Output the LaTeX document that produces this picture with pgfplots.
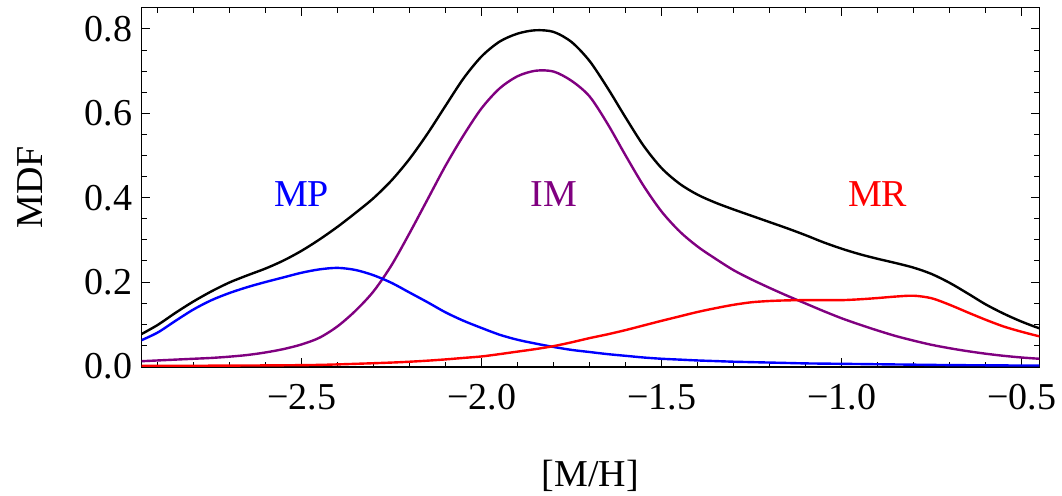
\documentclass[border=0pt]{standalone}
\usepackage{fontspec}
\setmainfont{Liberation Serif}
\usepackage{pgfplots}
\pgfplotsset{compat=1.18}
\definecolor{mpblue}{RGB}{0,0,255}
\definecolor{impurple}{RGB}{128,0,128}
\definecolor{mrred}{RGB}{255,0,0}
\begin{document}
\begin{tikzpicture}
\begin{axis}[name=ax, scale only axis, width=448.8pt, height=179.85pt,
  xmin=-2.944, xmax=-0.451, ymin=-0.0015, ymax=0.8514,
  xtick={-2.5,-2,-1.5,-1,-0.5}, xticklabels={−2.5,−2.0,−1.5,−1.0,−0.5},
  minor xtick={-2.9,-2.8,-2.7,-2.6,-2.4,-2.3,-2.2,-2.1,-1.9,-1.8,-1.7,-1.6,-1.4,-1.3,-1.2,-1.1,-0.9,-0.8,-0.7,-0.6},
  ytick={0,0.2,0.4,0.6,0.8}, yticklabels={0.0,0.2,0.4,0.6,0.8},
  minor ytick={0.05,0.1,0.15,0.25,0.3,0.35,0.45,0.5,0.55,0.65,0.7,0.75},
  tick align=inside, major tick length=4.4pt, minor tick length=2.7pt,
  tick style={black, line width=0.5pt},
  axis line style={line width=0.8pt},
  /pgf/number format/assume math mode=true,
  tick label style={font=\fontsize{19}{23}\selectfont},
  xticklabel style={yshift=-5.2pt},
  yticklabel style={xshift=-1.2pt},
  label style={font=\fontsize{19}{23}\selectfont},
  xlabel={[M/H]}, ylabel={MDF},
  xlabel style={at={(axis description cs:0.5,-0.3328)}, anchor=base},
  ylabel style={at={(axis description cs:-0.1100,0.5)}, anchor=base},
  every axis plot/.append style={line width=1.2pt, smooth},
  clip=true,
]
% IM
\addplot[impurple] coordinates {
(-2.95,0.012) (-2.90,0.014) (-2.85,0.016) (-2.80,0.018) (-2.75,0.020) (-2.70,0.023)
(-2.65,0.027) (-2.60,0.033) (-2.55,0.041) (-2.50,0.052) (-2.45,0.068) (-2.40,0.095)
(-2.35,0.132) (-2.30,0.178) (-2.25,0.240) (-2.20,0.316) (-2.15,0.396) (-2.10,0.476)
(-2.05,0.548) (-2.00,0.612) (-1.95,0.659) (-1.90,0.688) (-1.85,0.701) (-1.80,0.699)
(-1.75,0.677) (-1.70,0.640) (-1.65,0.575) (-1.60,0.500) (-1.55,0.428) (-1.50,0.367)
(-1.45,0.320) (-1.40,0.284) (-1.35,0.255) (-1.30,0.228) (-1.25,0.206) (-1.20,0.186)
(-1.15,0.167) (-1.10,0.149) (-1.05,0.131) (-1.00,0.114) (-0.95,0.099) (-0.90,0.085)
(-0.85,0.072) (-0.80,0.061) (-0.75,0.051) (-0.70,0.043) (-0.65,0.036) (-0.60,0.030)
(-0.55,0.025) (-0.50,0.021) (-0.45,0.018) (-0.40,0.016)
};
% MP
\addplot[mpblue] coordinates {
(-2.95,0.060) (-2.90,0.080) (-2.85,0.108) (-2.80,0.135) (-2.75,0.157) (-2.70,0.174)
(-2.65,0.188) (-2.60,0.200) (-2.55,0.211) (-2.50,0.222) (-2.45,0.230) (-2.40,0.2335)
(-2.35,0.2285) (-2.30,0.216) (-2.25,0.198) (-2.20,0.175) (-2.15,0.152) (-2.10,0.128)
(-2.05,0.108) (-2.00,0.091) (-1.95,0.075) (-1.90,0.063) (-1.85,0.054) (-1.80,0.046)
(-1.75,0.039) (-1.70,0.034) (-1.65,0.029) (-1.60,0.025) (-1.55,0.021) (-1.50,0.018)
(-1.45,0.016) (-1.40,0.014) (-1.35,0.0125) (-1.30,0.011) (-1.25,0.010) (-1.20,0.009)
(-1.15,0.008) (-1.10,0.007) (-1.05,0.0065) (-1.00,0.006) (-0.90,0.005) (-0.80,0.004)
(-0.70,0.003) (-0.60,0.0025) (-0.50,0.002) (-0.40,0.002)
};
% MR
\addplot[mrred] coordinates {
(-2.95,0.001) (-2.85,0.0012) (-2.75,0.0016) (-2.65,0.002) (-2.55,0.0025) (-2.45,0.0035)
(-2.35,0.006) (-2.25,0.009) (-2.20,0.011) (-2.15,0.0135) (-2.10,0.0165) (-2.05,0.020)
(-2.00,0.0235) (-1.95,0.029) (-1.90,0.035) (-1.85,0.041) (-1.80,0.048) (-1.75,0.057)
(-1.70,0.067) (-1.65,0.076) (-1.60,0.086) (-1.55,0.097) (-1.50,0.108) (-1.45,0.1185)
(-1.40,0.129) (-1.35,0.138) (-1.30,0.146) (-1.25,0.152) (-1.20,0.155) (-1.15,0.1565)
(-1.10,0.157) (-1.05,0.157) (-1.00,0.157) (-0.95,0.159) (-0.90,0.162) (-0.85,0.1655)
(-0.80,0.1675) (-0.75,0.1615) (-0.70,0.146) (-0.65,0.128) (-0.60,0.1105) (-0.55,0.0945)
(-0.50,0.082) (-0.45,0.071) (-0.40,0.061)
};
% total
\addplot[black] coordinates {
(-2.95,0.074) (-2.90,0.098) (-2.85,0.127) (-2.80,0.154) (-2.75,0.178) (-2.70,0.199)
(-2.65,0.216) (-2.60,0.232) (-2.55,0.251) (-2.50,0.274) (-2.45,0.301) (-2.40,0.331)
(-2.35,0.364) (-2.30,0.399) (-2.25,0.441) (-2.20,0.492) (-2.15,0.552) (-2.10,0.618)
(-2.05,0.683) (-2.00,0.735) (-1.95,0.770) (-1.90,0.789) (-1.85,0.797) (-1.80,0.793)
(-1.75,0.769) (-1.70,0.724) (-1.65,0.660) (-1.60,0.590) (-1.55,0.523) (-1.50,0.470)
(-1.45,0.433) (-1.40,0.407) (-1.35,0.388) (-1.30,0.372) (-1.25,0.357) (-1.20,0.342)
(-1.15,0.327) (-1.10,0.311) (-1.05,0.294) (-1.00,0.279) (-0.95,0.266) (-0.90,0.255)
(-0.85,0.245) (-0.80,0.234) (-0.75,0.219) (-0.70,0.198) (-0.65,0.173) (-0.60,0.147)
(-0.55,0.125) (-0.50,0.106) (-0.45,0.090) (-0.40,0.077)
};
\node[anchor=base, text=mpblue, font=\fontsize{19}{23}\selectfont] at (axis cs:-2.5,0.378) {MP};
\node[anchor=base, text=impurple, font=\fontsize{19}{23}\selectfont] at (axis cs:-1.8,0.378) {IM};
\node[anchor=base, text=mrred, font=\fontsize{19}{23}\selectfont] at (axis cs:-0.9,0.378) {MR};
\end{axis}
\pgfresetboundingbox
\path[use as bounding box] ([xshift=-70.85pt,yshift=-64.35pt]ax.south west) rectangle ([xshift=11.35pt,yshift=3.65pt]ax.north east);
\end{tikzpicture}
\end{document}
